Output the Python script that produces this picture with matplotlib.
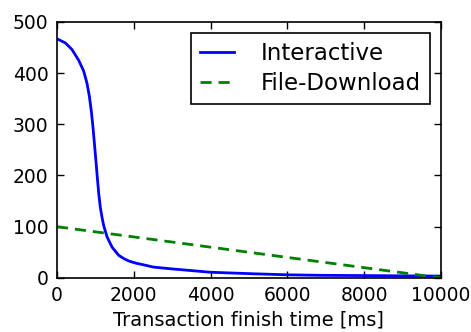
import matplotlib
matplotlib.use("Agg")
import matplotlib.pyplot as plt
import numpy as np

# Interactive transactions
inter_x = [0, 217, 391, 565, 695, 782, 843, 895, 939, 980, 1017, 1055, 1090,
           1130, 1174, 1217, 1261, 1304, 1435, 1609, 1757, 1870, 2043, 2522,
           3000, 3391, 4000, 5130, 6000, 6870, 8000, 9000, 10000]
inter_y = [467, 459, 446, 425, 404, 380, 355, 325, 293, 258, 226, 192, 163,
           137, 118, 102, 91, 80, 60, 44, 37, 33, 29, 21,
           17.5, 15, 11, 8, 6, 5, 4.5, 4, 3.5]

# File-Download transactions
dl_x = [0, 10000]
dl_y = [100, 0]

x_ticks = [0, 2000, 4000, 6000, 8000, 10000]
y_ticks = [0, 100, 200, 300, 400, 500]

plt.rcParams['lines.scale_dashes'] = False
fig = plt.figure(figsize=(4.71, 3.32), dpi=100)
ax = fig.add_axes([0.121, 0.163, 0.815, 0.771])

ax.plot(inter_x, inter_y, color='#0000ff', lw=2, label='Interactive',
        solid_joinstyle='round')
ax.plot(dl_x, dl_y, color='#008000', lw=2, dashes=(8, 5), label='File-Download')

ax.set_xlim(0, 10000)
ax.set_ylim(0, 500)
ax.set_xticks(x_ticks)
ax.set_yticks(y_ticks)
ax.tick_params(direction='in', top=True, right=True, length=5, width=1,
               labelsize=13.5, pad=6)
for s in ax.spines.values():
    s.set_linewidth(1.2)
ax.set_xlabel('Transaction finish time [ms]', fontsize=14, labelpad=4)

leg = ax.legend(loc='upper right', fontsize=16.5, fancybox=False, framealpha=1,
                edgecolor='black', borderaxespad=0.47, handlelength=1.5,
                handletextpad=1.15, borderpad=0.4, labelspacing=0.3)
leg.get_frame().set_linewidth(1.2)

fig.savefig('out.png', dpi=100)
